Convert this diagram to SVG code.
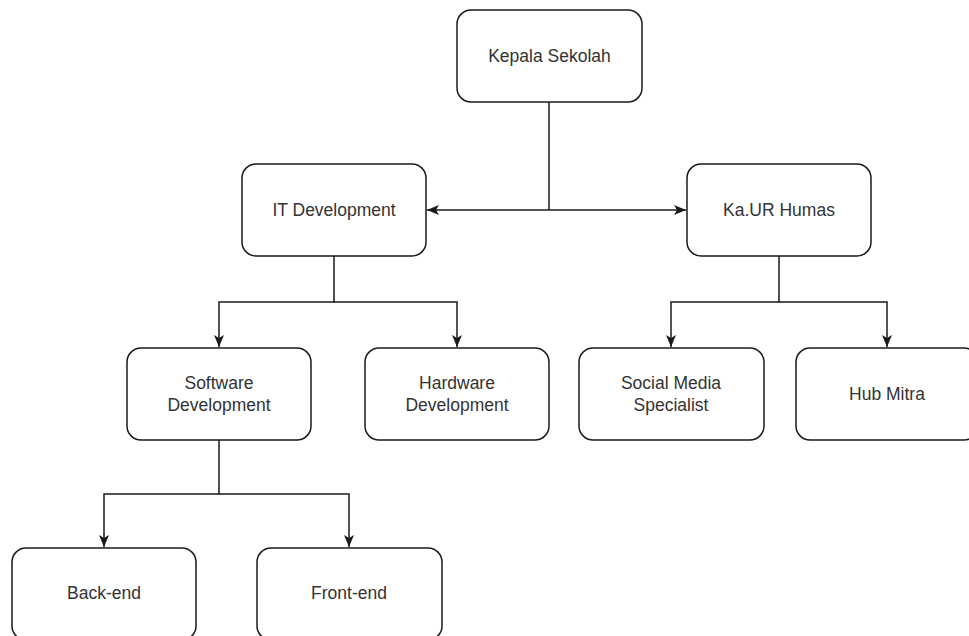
<svg xmlns="http://www.w3.org/2000/svg" width="969" height="636" viewBox="0 0 969 636">
  <style>
    .box { fill: #ffffff; stroke: #1a1a1a; stroke-width: 1.5; }
    .lbl { font-family: "Liberation Sans", Arial, sans-serif; font-size: 17.5px; fill: #333333; text-anchor: middle; dominant-baseline: central; }
    .edge { fill: none; stroke: #1a1a1a; stroke-width: 1.5; }
  </style>
  <defs>
    <!-- filled, notched arrowhead; tip sits on the target edge -->
    <marker id="arrow" viewBox="0 0 12 10" refX="12" refY="5" markerWidth="12" markerHeight="10" markerUnits="userSpaceOnUse" orient="auto-start-reverse">
      <path d="M0,0 L12,5 L0,10 L3,5 Z" fill="#1a1a1a"/>
    </marker>
  </defs>
  <rect width="969" height="636" fill="#ffffff"/>

  <g id="connectors">
    <path class="edge" d="M549,102 V210"/>
    <path class="edge" d="M427,210 H686" marker-start="url(#arrow)" marker-end="url(#arrow)"/>
    <path class="edge" d="M334,256 V302 H219 V347" marker-end="url(#arrow)"/>
    <path class="edge" d="M334,302 H457 V347" marker-end="url(#arrow)"/>
    <path class="edge" d="M779,256 V302 H671 V347" marker-end="url(#arrow)"/>
    <path class="edge" d="M779,302 H887 V347" marker-end="url(#arrow)"/>
    <path class="edge" d="M219,440 V494 H104 V547" marker-end="url(#arrow)"/>
    <path class="edge" d="M219,494 H349 V547" marker-end="url(#arrow)"/>
  </g>

  <g id="kepala-sekolah">
    <rect class="box" x="457" y="10" width="185" height="92" rx="14"/>
    <text class="lbl" x="549.5" y="56">Kepala Sekolah</text>
  </g>
  <g id="it-development">
    <rect class="box" x="242" y="164" width="184" height="92" rx="14"/>
    <text class="lbl" x="334" y="210">IT Development</text>
  </g>
  <g id="ka-ur-humas">
    <rect class="box" x="687" y="164" width="184" height="92" rx="14"/>
    <text class="lbl" x="779" y="210">Ka.UR Humas</text>
  </g>
  <g id="software-development">
    <rect class="box" x="127" y="348" width="184" height="92" rx="14"/>
    <text class="lbl" x="219" y="383">Software</text>
    <text class="lbl" x="219" y="405">Development</text>
  </g>
  <g id="hardware-development">
    <rect class="box" x="365" y="348" width="184" height="92" rx="14"/>
    <text class="lbl" x="457" y="383">Hardware</text>
    <text class="lbl" x="457" y="405">Development</text>
  </g>
  <g id="social-media-specialist">
    <rect class="box" x="579" y="348" width="185" height="92" rx="14"/>
    <text class="lbl" x="671" y="383">Social Media</text>
    <text class="lbl" x="671" y="405">Specialist</text>
  </g>
  <g id="hub-mitra">
    <rect class="box" x="796" y="348" width="182" height="92" rx="14"/>
    <text class="lbl" x="887" y="394">Hub Mitra</text>
  </g>
  <g id="back-end">
    <rect class="box" x="12" y="548" width="184" height="92" rx="14"/>
    <text class="lbl" x="104" y="593">Back-end</text>
  </g>
  <g id="front-end">
    <rect class="box" x="257" y="548" width="185" height="92" rx="14"/>
    <text class="lbl" x="349" y="593">Front-end</text>
  </g>
</svg>
